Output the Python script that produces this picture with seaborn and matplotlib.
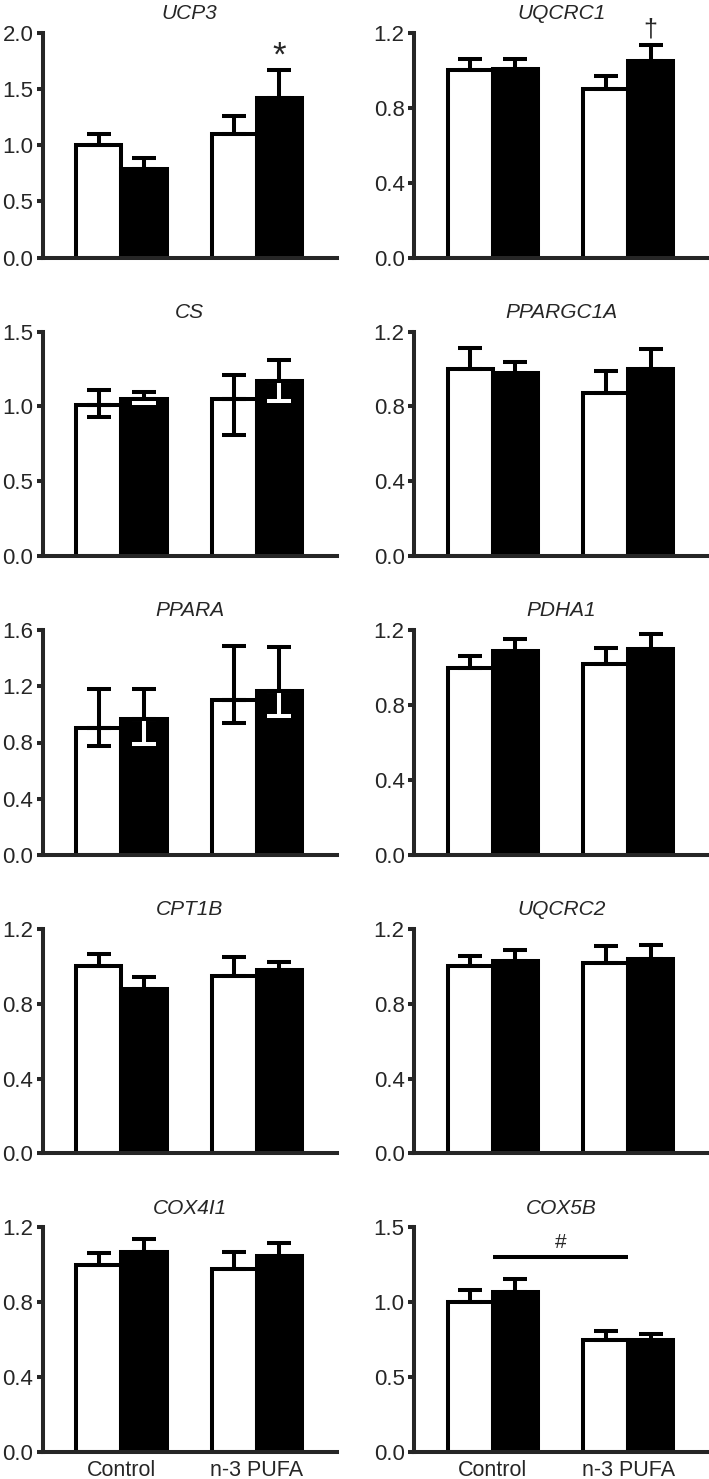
import numpy as np
import pandas as pd
import matplotlib
matplotlib.use("Agg")
import matplotlib.pyplot as plt
import seaborn as sns

# Panels, read left-to-right, top-to-bottom
genes = ["UCP3", "UQCRC1", "CS", "PPARGC1A", "PPARA",
         "PDHA1", "CPT1B", "UQCRC2", "COX4I1", "COX5B"]
diets = ["Control", "n-3 PUFA"]
conditions = ["open", "filled"]

# Values in order: Control-open, Control-filled, n-3 PUFA-open, n-3 PUFA-filled
means = {
    "UCP3":     [1.00, 0.79, 1.10, 1.42],
    "UQCRC1":   [1.00, 1.01, 0.90, 1.05],
    "CS":       [1.01, 1.05, 1.05, 1.17],
    "PPARGC1A": [1.00, 0.98, 0.87, 1.00],
    "PPARA":    [0.90, 0.97, 1.10, 1.17],
    "PDHA1":    [1.00, 1.09, 1.02, 1.10],
    "CPT1B":    [1.00, 0.88, 0.95, 0.98],
    "UQCRC2":   [1.00, 1.03, 1.02, 1.04],
    "COX4I1":   [1.00, 1.07, 0.98, 1.05],
    "COX5B":    [1.00, 1.07, 0.75, 0.75],
}
err_up = {
    "UCP3":     [0.10, 0.10, 0.16, 0.25],
    "UQCRC1":   [0.06, 0.05, 0.07, 0.085],
    "CS":       [0.10, 0.045, 0.16, 0.14],
    "PPARGC1A": [0.11, 0.06, 0.12, 0.105],
    "PPARA":    [0.28, 0.21, 0.385, 0.31],
    "PDHA1":    [0.063, 0.063, 0.084, 0.08],
    "CPT1B":    [0.068, 0.062, 0.097, 0.045],
    "UQCRC2":   [0.054, 0.057, 0.086, 0.072],
    "COX4I1":   [0.061, 0.066, 0.089, 0.067],
    "COX5B":    [0.083, 0.083, 0.061, 0.04],
}
err_down = {
    "CS":    [0.08, 0.03, 0.24, 0.135],
    "PPARA": [0.124, 0.178, 0.162, 0.178],
}
y_max = {"UCP3": 2.0, "UQCRC1": 1.2, "CS": 1.5, "PPARGC1A": 1.2, "PPARA": 1.6,
         "PDHA1": 1.2, "CPT1B": 1.2, "UQCRC2": 1.2, "COX4I1": 1.2, "COX5B": 1.5}
y_step = {"UCP3": 0.5, "UQCRC1": 0.4, "CS": 0.5, "PPARGC1A": 0.4, "PPARA": 0.4,
          "PDHA1": 0.4, "CPT1B": 0.4, "UQCRC2": 0.4, "COX4I1": 0.4, "COX5B": 0.5}

rows = []
for g in genes:
    pairs = [(d, c) for d in diets for c in conditions]
    for i, (d, c) in enumerate(pairs):
        rows.append(dict(gene=g, diet=d, condition=c, mean=means[g][i],
                         up=err_up[g][i], down=err_down.get(g, [0, 0, 0, 0])[i]))
df = pd.DataFrame(rows)

sns.set_style("ticks")
plt.rcParams['font.family'] = ['Liberation Sans', 'DejaVu Sans']
plt.rcParams['axes.linewidth'] = 2.9

fig, axes = plt.subplots(5, 2, figsize=(7.09, 14.79), dpi=100)
plt.subplots_adjust(left=43/709, right=708/709, top=1-33/1479, bottom=1-1452/1479,
                    wspace=0.265, hspace=0.33)

lw = 2.9
for n, (ax, g) in enumerate(zip(axes.flat, genes)):
    sub = df[df.gene == g]
    sns.barplot(data=sub, x="diet", y="mean", hue="condition", order=diets,
                hue_order=conditions, palette=["white", "black"], edgecolor="black",
                linewidth=lw, width=0.667, errorbar=None, legend=False, ax=ax)
    # error bars: lower part (white inside filled bars), then upper part
    for container, cond in zip(ax.containers, conditions):
        for bar, d in zip(container, diets):
            r = sub[(sub.diet == d) & (sub.condition == cond)].iloc[0]
            x = bar.get_x() + bar.get_width() / 2
            y = bar.get_height()
            if r["down"] > 0:
                ax.errorbar(x, y, yerr=[[r["down"]], [0]], fmt="none",
                            ecolor="white" if cond == "filled" else "black",
                            elinewidth=lw, capsize=8.5, capthick=lw, zorder=3)
            ax.errorbar(x, y, yerr=[[0], [r["up"]]], fmt="none", ecolor="black",
                        elinewidth=lw, capsize=8.5, capthick=lw, zorder=4)

    ax.set_xlim(-0.58, 1.59)
    ax.set_ylim(0, y_max[g])
    ticks = np.arange(0, y_max[g] + 1e-9, y_step[g])
    ax.set_yticks(ticks)
    ax.set_yticklabels([f"{t:.1f}" for t in ticks])
    ax.set_xlabel("")
    ax.set_ylabel("")
    ax.set_title(g, fontstyle="italic", fontsize=15, pad=10)
    ax.tick_params(axis="y", length=4, width=2.9, labelsize=16, pad=3)
    ax.tick_params(axis="x", length=0, labelsize=15.5, pad=6)
    if n < 8:
        ax.set_xticklabels([])
    sns.despine(ax=ax)

# significance marks
ax = axes[0, 0]
bar = ax.containers[1][1]
ax.text(bar.get_x() + bar.get_width() / 2, 1.79, "*", ha="center", va="center", fontsize=25)
ax = axes[0, 1]
bar = ax.containers[1][1]
ax.text(bar.get_x() + bar.get_width() / 2, 1.22, "\u2020", ha="center", va="center",
        fontsize=18, clip_on=False)
ax = axes[4, 1]
ax.plot([0, 1], [1.30, 1.30], color="black", lw=2.9, solid_capstyle="butt")
ax.text(0.5, 1.40, "#", ha="center", va="center", fontsize=15)

fig.savefig("out.png", dpi=100)
